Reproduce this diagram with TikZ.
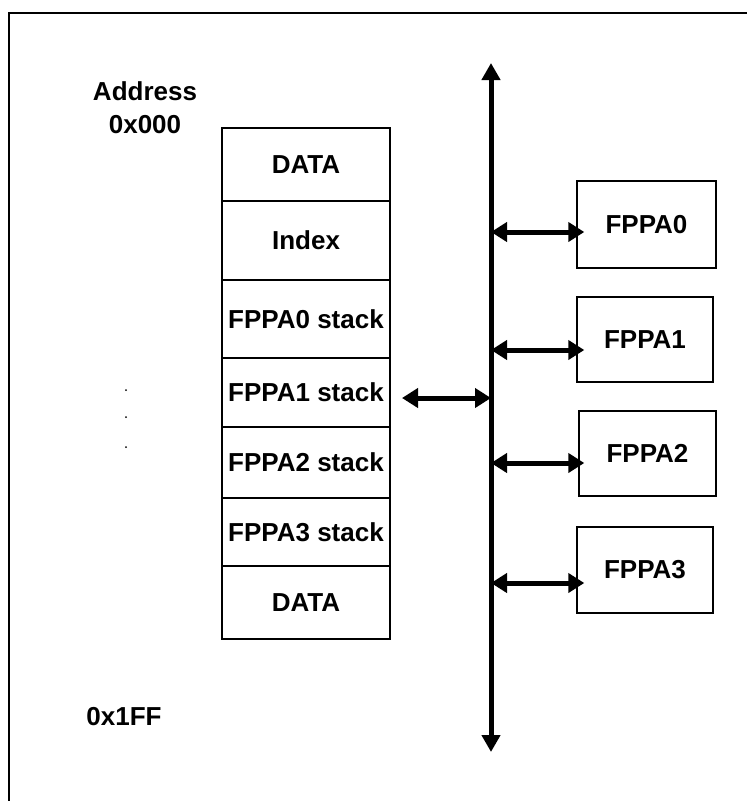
\documentclass[tikz,border=0pt]{standalone}
\usepackage{fontspec}
\setmainfont{Liberation Sans}
\usepackage{tikz}
\usetikzlibrary{arrows.meta, calc}

\begin{document}
\begin{tikzpicture}[x=1pt, y=-1pt,
        lbl/.style={font=\fontsize{26}{30}\selectfont\bfseries},
        cell/.style={draw, line width=1.6pt, minimum width=168, inner sep=0pt, lbl},
        unit/.style={draw, line width=1.4pt, inner sep=0pt, lbl},
        link/.style={line width=5pt, {Triangle[length=16pt,width=19pt]}-{Triangle[length=16pt,width=19pt]}},
        bus/.style={line width=5pt, {Triangle[length=17pt,width=18pt]}-{Triangle[length=17pt,width=18pt]}}]
        \useasboundingbox (0,0) rectangle (747,801);
        \draw[line width=1.6pt] (9,801) -- (9,13) -- (747,13);

        \node[lbl] (addr) at (145,91) {Address};
        \node[lbl] (lo) at (145,125) {0x000};
        \node[lbl] (hi) at (124,717) {0x1FF};
        \foreach \y in {390,417,447} \fill (126,\y) circle (1pt);

        % memory map
        \node[cell, minimum height=73] (data0) at (306,164.5) {DATA};
        \node[cell, minimum height=79] (index) at (306,240.5) {Index};
        \node[cell, minimum height=78] (fs0) at (306,319) {FPPA0 stack};
        \node[cell, minimum height=69] (fs1) at (306,392.5) {FPPA1 stack};
        \node[cell, minimum height=71] (fs2) at (306,462.5) {FPPA2 stack};
        \node[cell, minimum height=68] (fs3) at (306,532) {FPPA3 stack};
        \node[cell, minimum height=73] (data1) at (306,602.5) {DATA};

        % bus
        \coordinate (bustop) at (491,63);
        \coordinate (busbot) at (491,752);
        \draw[bus] (busbot) -- (bustop);

        \node[unit, minimum width=139, minimum height=87] (f0) at (646.5,224.5) {FPPA0};
        \node[unit, minimum width=136, minimum height=85] (f1) at (645,339.5) {FPPA1};
        \node[unit, minimum width=137, minimum height=85] (f2) at (647.5,453.5) {FPPA2};
        \node[unit, minimum width=136, minimum height=86] (f3) at (645,570) {FPPA3};

        \coordinate (b0) at (491,232);
        \coordinate (b1) at (491,350);
        \coordinate (b2) at (491,463);
        \coordinate (b3) at (491,583);
        \draw[link] (b0) -- ($(b0 -| f0.west)+(8,0)$);
        \draw[link] (b1) -- ($(b1 -| f1.west)+(8,0)$);
        \draw[link] (b2) -- ($(b2 -| f2.west)+(6,0)$);
        \draw[link] (b3) -- ($(b3 -| f3.west)+(8,0)$);

        \coordinate (m1) at (402,398);
        \draw[link] (m1) -- (m1 -| bustop);
    \end{tikzpicture}
\end{document}
